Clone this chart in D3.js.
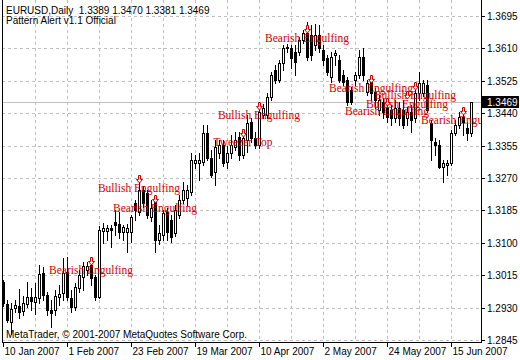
<!DOCTYPE html>
<html><head><meta charset="utf-8">
<script src="https://cdn.jsdelivr.net/npm/d3@7"></script>
<style>
html,body{margin:0;padding:0;background:#fff;}
svg{display:block;}
</style></head>
<body>
<svg id="c" width="520" height="360"></svg>
<script>
const opens  = [1.2997,1.2939,1.2892,1.2929,1.2934,1.2921,1.2939,1.2958,1.2945,1.2955,1.3021,1.2963,1.2924,1.2924,1.2958,1.2968,1.3023,1.2955,1.2932,1.2981,1.3010,1.3029,1.3042,1.3010,1.2958,1.3131,1.3131,1.3139,1.3155,1.3149,1.3128,1.3128,1.3128,1.3204,1.3181,1.3239,1.3231,1.3168,1.3212,1.3107,1.3120,1.3181,1.3160,1.3126,1.3173,1.3212,1.3218,1.3233,1.3309,1.3309,1.3312,1.3388,1.3322,1.3286,1.3336,1.3357,1.3312,1.3336,1.3351,1.3378,1.3330,1.3370,1.3417,1.3375,1.3357,1.3435,1.3435,1.3482,1.3553,1.3527,1.3572,1.3611,1.3611,1.3601,1.3601,1.3632,1.3650,1.3645,1.3619,1.3645,1.3606,1.3585,1.3535,1.3593,1.3580,1.3540,1.3527,1.3501,1.3527,1.3540,1.3587,1.3496,1.3522,1.3496,1.3448,1.3469,1.3454,1.3448,1.3427,1.3454,1.3448,1.3427,1.3443,1.3427,1.3493,1.3493,1.3514,1.3414,1.3364,1.3357,1.3299,1.3304,1.3309,1.3388,1.3409,1.3430,1.3401,1.3389];
const highs  = [1.3002,1.2950,1.2942,1.2950,1.2979,1.2960,1.2997,1.2981,1.2995,1.3042,1.3037,1.2971,1.2950,1.2976,1.2989,1.3060,1.3063,1.2976,1.2995,1.3029,1.3050,1.3050,1.3050,1.3016,1.3144,1.3152,1.3147,1.3147,1.3186,1.3181,1.3147,1.3149,1.3173,1.3212,1.3259,1.3249,1.3239,1.3212,1.3223,1.3147,1.3186,1.3191,1.3173,1.3199,1.3225,1.3259,1.3252,1.3336,1.3330,1.3336,1.3409,1.3409,1.3343,1.3370,1.3370,1.3370,1.3354,1.3383,1.3391,1.3391,1.3391,1.3435,1.3427,1.3391,1.3456,1.3464,1.3493,1.3548,1.3566,1.3580,1.3619,1.3622,1.3619,1.3619,1.3640,1.3658,1.3679,1.3671,1.3674,1.3671,1.3619,1.3593,1.3601,1.3606,1.3593,1.3553,1.3535,1.3509,1.3548,1.3606,1.3611,1.3527,1.3532,1.3506,1.3488,1.3480,1.3467,1.3462,1.3475,1.3469,1.3475,1.3456,1.3462,1.3501,1.3548,1.3527,1.3527,1.3422,1.3375,1.3370,1.3317,1.3317,1.3396,1.3422,1.3443,1.3443,1.3417,1.3470];
const lows   = [1.2934,1.2892,1.2861,1.2918,1.2903,1.2911,1.2932,1.2924,1.2913,1.2942,1.2950,1.2911,1.2879,1.2911,1.2937,1.2950,1.2950,1.2918,1.2924,1.2971,1.2976,1.3016,1.2989,1.2950,1.2955,1.3099,1.3107,1.3089,1.3120,1.3113,1.3107,1.3076,1.3102,1.3160,1.3173,1.3194,1.3165,1.3157,1.3076,1.3097,1.3107,1.3107,1.3102,1.3118,1.3165,1.3204,1.3199,1.3225,1.3296,1.3265,1.3304,1.3317,1.3273,1.3252,1.3322,1.3302,1.3296,1.3322,1.3343,1.3317,1.3322,1.3338,1.3364,1.3349,1.3349,1.3427,1.3427,1.3475,1.3519,1.3522,1.3553,1.3601,1.3559,1.3540,1.3593,1.3624,1.3580,1.3580,1.3606,1.3601,1.3566,1.3540,1.3522,1.3566,1.3522,1.3514,1.3462,1.3464,1.3514,1.3532,1.3527,1.3488,1.3475,1.3454,1.3435,1.3427,1.3417,1.3409,1.3417,1.3409,1.3401,1.3409,1.3391,1.3417,1.3475,1.3485,1.3443,1.3317,1.3330,1.3296,1.3259,1.3278,1.3304,1.3383,1.3401,1.3383,1.3370,1.3381];
const closes = [1.2942,1.2897,1.2926,1.2937,1.2918,1.2942,1.2958,1.2947,1.2958,1.3018,1.2963,1.2924,1.2916,1.2960,1.2966,1.3021,1.2958,1.2932,1.2984,1.3016,1.3039,1.3039,1.3008,1.2958,1.3134,1.3139,1.3139,1.3134,1.3147,1.3128,1.3141,1.3139,1.3168,1.3186,1.3239,1.3204,1.3173,1.3191,1.3107,1.3126,1.3178,1.3128,1.3115,1.3186,1.3212,1.3239,1.3239,1.3317,1.3317,1.3317,1.3388,1.3322,1.3278,1.3351,1.3357,1.3309,1.3336,1.3357,1.3370,1.3330,1.3375,1.3414,1.3375,1.3357,1.3443,1.3454,1.3482,1.3540,1.3527,1.3572,1.3611,1.3614,1.3585,1.3574,1.3632,1.3650,1.3587,1.3593,1.3645,1.3611,1.3580,1.3548,1.3587,1.3598,1.3527,1.3522,1.3469,1.3469,1.3540,1.3587,1.3540,1.3519,1.3493,1.3475,1.3475,1.3443,1.3430,1.3427,1.3454,1.3427,1.3409,1.3443,1.3422,1.3493,1.3519,1.3519,1.3448,1.3370,1.3357,1.3299,1.3309,1.3309,1.3388,1.3409,1.3430,1.3417,1.3388,1.3469];

const priceTicks = ["1.3695","1.3610","1.3525","1.3440","1.3355","1.3270","1.3185","1.3100","1.3015","1.2930","1.2845"];
const dateLabels = ["10 Jan 2007","1 Feb 2007","23 Feb 2007","19 Mar 2007","10 Apr 2007","2 May 2007","24 May 2007","15 Jun 2007"];
const dateBars   = [0,16,32,48,64,80,96,112];

const patternNames  = ["Bearish Engulfing","Bullish Engulfing","Bearish Engulfing","Tweezer Top","Bullish Engulfing","Bearish Engulfing","Bearish Engulfing","Bullish Engulfing","Bullish Engulfing","Bearish Engulfing","Bearish Engulfing"];
const patternBars   = [22,34,38,60,64,76,92,103,101,96,115];
const patternPrices = [1.3042,1.3257,1.3204,1.3378,1.3448,1.3650,1.3519,1.3501,1.3477,1.3459,1.3435];

const headerText = "EURUSD,Daily  1.3389 1.3470 1.3381 1.3469";
const indicatorText = "Pattern Alert v1.1 Official";
const footerText = "MetaTrader, \u00A9 2001-2007 MetaQuotes Software Corp.";
const lastPrice = 1.3469;

const svg = d3.select("#c");
const L = 2, R = 481, T = 0, B = 342;
const n = opens.length;
const x = d3.scaleLinear().domain([0, n - 1]).range([3, 3 + 4 * (n - 1)]);
const y = d3.scaleLinear().domain([1.2845, 1.3695]).range([340, 16]);

const font = "'Liberation Sans', Arial, sans-serif";
const gridC = "#c0c0c0";
const red = "#d40000";

svg.append("defs").append("clipPath").attr("id", "plot")
  .append("rect").attr("x", L).attr("y", T).attr("width", R - L).attr("height", B - T);

// grid
const g = svg.append("g").attr("shape-rendering", "crispEdges");
g.selectAll(".hg").data(priceTicks).enter().append("line")
  .attr("x1", L).attr("x2", R)
  .attr("y1", d => Math.round(y(+d)) + 0.5).attr("y2", d => Math.round(y(+d)) + 0.5)
  .attr("stroke", gridC).attr("stroke-dasharray", "3,3");
const vg = d3.range(8, n, 8);
g.selectAll(".vg").data(vg).enter().append("line")
  .attr("x1", d => x(d) + 0.5).attr("x2", d => x(d) + 0.5)
  .attr("y1", T).attr("y2", B)
  .attr("stroke", gridC).attr("stroke-dasharray", "3,3");

// last price line
g.append("line").attr("x1", L).attr("x2", R)
  .attr("y1", Math.round(y(lastPrice)) + 0.5).attr("y2", Math.round(y(lastPrice)) + 0.5)
  .attr("stroke", "#c0c0c0");

// candles
const data = opens.map((o, i) => ({i, o, h: highs[i], l: lows[i], c: closes[i]}));
const cg = svg.append("g").attr("shape-rendering", "crispEdges");
cg.selectAll(".wick").data(data).enter().append("line")
  .attr("x1", d => x(d.i) + 0.5).attr("x2", d => x(d.i) + 0.5)
  .attr("y1", d => Math.round(y(d.h))).attr("y2", d => Math.round(y(d.l)) + 1)
  .attr("stroke", "#000");
cg.selectAll(".body").data(data).enter().append("rect")
  .attr("x", d => x(d.i) - 1 + 0.5)
  .attr("y", d => Math.round(y(Math.max(d.o, d.c))) + 0.5)
  .attr("width", 2)
  .attr("height", d => Math.max(0, Math.round(y(Math.min(d.o, d.c))) - Math.round(y(Math.max(d.o, d.c)))))
  .attr("fill", d => d.c >= d.o ? "#fff" : "#000")
  .attr("stroke", "#000");

// pattern labels
const pg = svg.append("g").attr("clip-path", "url(#plot)");
patternBars.forEach((b, k) => {
  const cx = x(b), ay = Math.round(y(patternPrices[k]));
  pg.append("path")
    .attr("d", `M${cx - 0.5},${ay - 7.5} h2 v4 h2 l-3,3.5 l-3,-3.5 h2 z`)
    .attr("fill", "#fff").attr("stroke", red).attr("stroke-width", 1);
  pg.append("text").attr("x", cx).attr("y", ay + 9)
    .attr("text-anchor", "middle")
    .attr("font-family", "'Liberation Serif','Times New Roman',serif")
    .attr("font-size", 11.5).attr("fill", red)
    .text(patternNames[k]);
});

// frame
const fg = svg.append("g").attr("shape-rendering", "crispEdges");
fg.append("line").attr("x1", L + 0.5).attr("x2", L + 0.5).attr("y1", T).attr("y2", B + 0.5).attr("stroke", "#000");
fg.append("line").attr("x1", L).attr("x2", R + 1).attr("y1", B + 0.5).attr("y2", B + 0.5).attr("stroke", "#000");
fg.append("line").attr("x1", R + 0.5).attr("x2", R + 0.5).attr("y1", T).attr("y2", B + 0.5).attr("stroke", "#000");

// right axis
const ya = svg.append("g");
priceTicks.forEach(t => {
  const yy = Math.round(y(+t)) + 0.5;
  ya.append("line").attr("x1", R).attr("x2", R + 4).attr("y1", yy).attr("y2", yy)
    .attr("stroke", "#000").attr("shape-rendering", "crispEdges");
  ya.append("text").attr("x", 487).attr("y", yy + 3.5)
    .attr("font-family", font).attr("font-size", 10).attr("fill", "#000").text(t);
});
// current price box
const ly = Math.round(y(lastPrice));
ya.append("rect").attr("x", R + 1).attr("y", ly - 6).attr("width", 37).attr("height", 12).attr("fill", "#000");
ya.append("text").attr("x", 487).attr("y", ly + 4)
  .attr("font-family", font).attr("font-size", 10).attr("fill", "#fff").text(lastPrice.toFixed(4));

// bottom axis
const xa = svg.append("g");
dateBars.forEach((b, k) => {
  const xx = x(b) + 0.5;
  xa.append("line").attr("x1", xx).attr("x2", xx).attr("y1", B).attr("y2", B + 5)
    .attr("stroke", "#000").attr("shape-rendering", "crispEdges");
  xa.append("text").attr("x", x(b) + 1.5).attr("y", 355)
    .attr("font-family", font).attr("font-size", 10).attr("fill", "#000").text(dateLabels[k]);
});

// texts
svg.append("text").attr("x", 6).attr("y", 14).attr("font-family", font).attr("font-size", 10).style("white-space", "pre").text(headerText);
svg.append("text").attr("x", 6).attr("y", 24).attr("font-family", font).attr("font-size", 10).text(indicatorText);
svg.append("text").attr("x", 6).attr("y", 338).attr("font-family", font).attr("font-size", 10).text(footerText);
</script>
</body></html>
